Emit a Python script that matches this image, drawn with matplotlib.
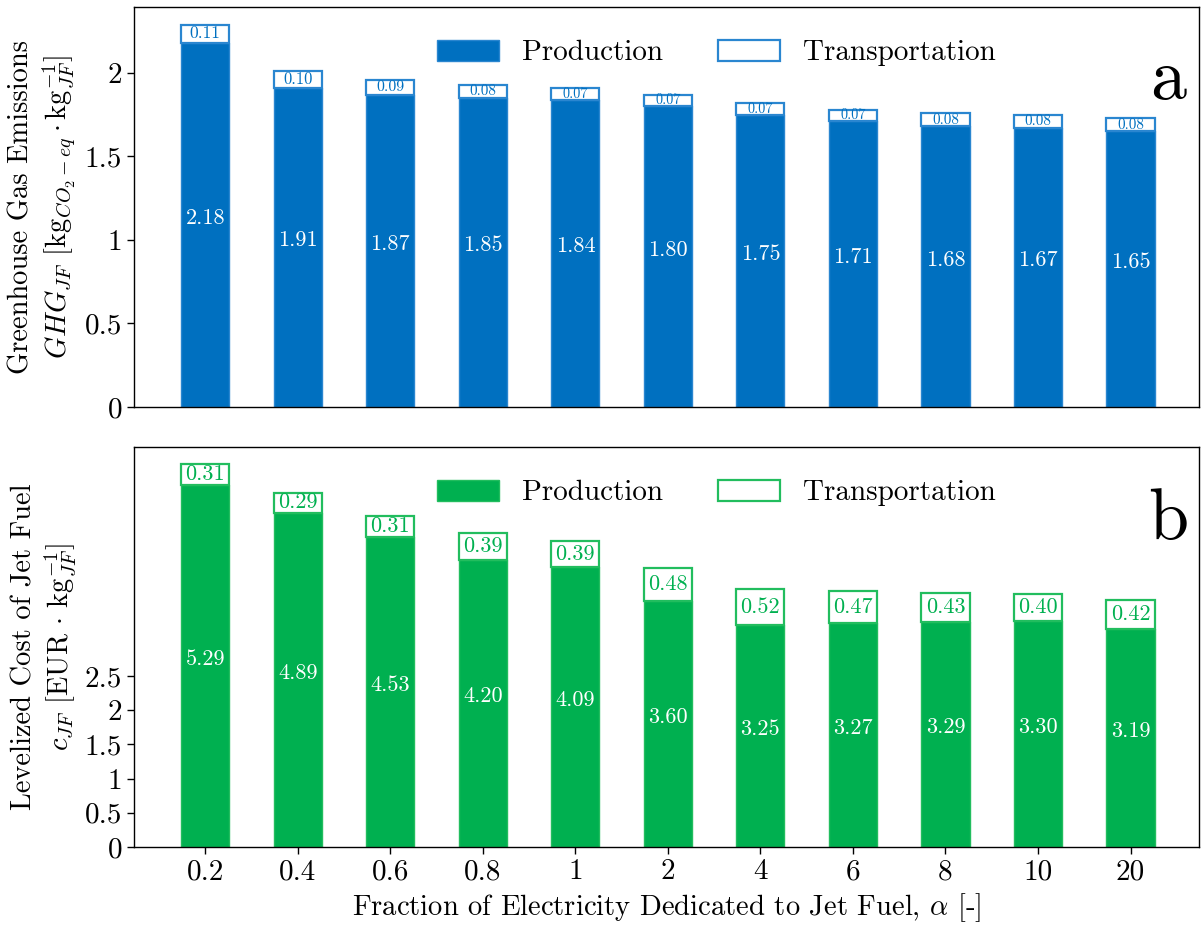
import matplotlib
matplotlib.use("Agg")
import matplotlib.pyplot as plt
import numpy as np

plt.rcParams["font.family"] = "serif"
plt.rcParams["font.serif"] = ["cmr10"]
plt.rcParams["mathtext.fontset"] = "cm"
plt.rcParams["axes.formatter.use_mathtext"] = True

# Fraction of electricity dedicated to jet fuel
alpha_labels = ["0.2", "0.4", "0.6", "0.8", "1", "2", "4", "6", "8", "10", "20"]

# Greenhouse gas emissions [kgCO2-eq / kgJF]
ghg_production = [2.18, 1.91, 1.87, 1.85, 1.84, 1.80, 1.75, 1.71, 1.68, 1.67, 1.65]
ghg_transport = [0.11, 0.10, 0.09, 0.08, 0.07, 0.07, 0.07, 0.07, 0.08, 0.08, 0.08]

# Levelized cost of jet fuel [EUR / kgJF]
cost_production = [5.29, 4.89, 4.53, 4.20, 4.09, 3.60, 3.25, 3.27, 3.29, 3.30, 3.19]
cost_transport = [0.31, 0.29, 0.31, 0.39, 0.39, 0.48, 0.52, 0.47, 0.43, 0.40, 0.42]

ghg_ticks = [0, 0.5, 1, 1.5, 2]
ghg_ticklabels = ["0", "0.5", "1", "1.5", "2"]
cost_ticks = [0, 0.5, 1, 1.5, 2, 2.5]
cost_ticklabels = ["0", "0.5", "1", "1.5", "2", "2.5"]

BLUE = "#0070C0"
BLUE_EDGE = "#2a86d0"
GREEN = "#00B050"
GREEN_EDGE = "#22bd5e"

W, H = 1201, 926
fig = plt.figure(figsize=(W / 100, H / 100), dpi=100)
ax_top = fig.add_axes([134 / W, (H - 407) / H, 1065 / W, 400 / H])
ax_bot = fig.add_axes([134 / W, (H - 847) / H, 1065 / W, 400 / H])

x = np.arange(len(alpha_labels))
width = 0.52


def stacked(ax, prod, trans, color, edge, trans_fs):
    ax.bar(x, prod, width, color=color, edgecolor=edge, linewidth=1.0,
           label="Production")
    ax.bar(x, trans, width, bottom=prod, color="white", edgecolor=edge,
           linewidth=1.6, label="Transportation")
    for xi, p, t, fs in zip(x, prod, trans, trans_fs):
        ax.annotate(f"{p:.2f}", (xi, p / 2), xytext=(0, 5),
                    textcoords="offset points", ha="center", va="center",
                    color="white", fontsize=16)
        ax.text(xi, p + t / 2, f"{t:.2f}", ha="center", va="center",
                color=color, fontsize=fs)
    ax.set_xlim(-0.77, 10.74)
    for s in ax.spines.values():
        s.set_linewidth(1.0)
    ax.tick_params(axis="both", labelsize=21, length=5, width=1)
    leg = ax.legend(loc="center", bbox_to_anchor=(0.547, 0.885), ncol=2,
                    frameon=False, fontsize=21, handlelength=2.1,
                    handleheight=0.75, handletextpad=0.8, columnspacing=1.9)
    return leg


stacked(ax_top, ghg_production, ghg_transport, BLUE, BLUE_EDGE,
        [6.5 + 55 * t for t in ghg_transport])
ax_top.set_ylim(0, 2.395)
ax_top.set_yticks(ghg_ticks, ghg_ticklabels)
ax_top.set_xticks([])
ax_top.set_ylabel("Greenhouse Gas Emissions\n"
                  r"$GHG_{JF}$ [kg$_{CO_2-eq}\cdot$kg$_{JF}^{-1}$]",
                  fontsize=20.5, linespacing=1.2, labelpad=5)
ax_top.text(0.971, 0.77, "a", transform=ax_top.transAxes, ha="center",
            va="baseline", fontsize=52)

stacked(ax_bot, cost_production, cost_transport, GREEN, GREEN_EDGE,
        [16] * len(cost_transport))
ax_bot.set_ylim(0, 5.85)
ax_bot.set_yticks(cost_ticks, cost_ticklabels)
ax_bot.set_xticks(x, alpha_labels)
ax_bot.set_ylabel("Levelized Cost of Jet Fuel\n"
                  r"$c_{JF}$ [EUR $\cdot$ kg$_{JF}^{-1}$]",
                  fontsize=20.5, linespacing=1.2, labelpad=5)
ax_bot.set_xlabel(r"Fraction of Electricity Dedicated to Jet Fuel, $\alpha$ [-]",
                  fontsize=20.6, labelpad=4)
ax_bot.text(0.971, 0.77, "b", transform=ax_bot.transAxes, ha="center",
            va="baseline", fontsize=52)

fig.align_ylabels([ax_top, ax_bot])

fig.savefig("out.png", dpi=100)
